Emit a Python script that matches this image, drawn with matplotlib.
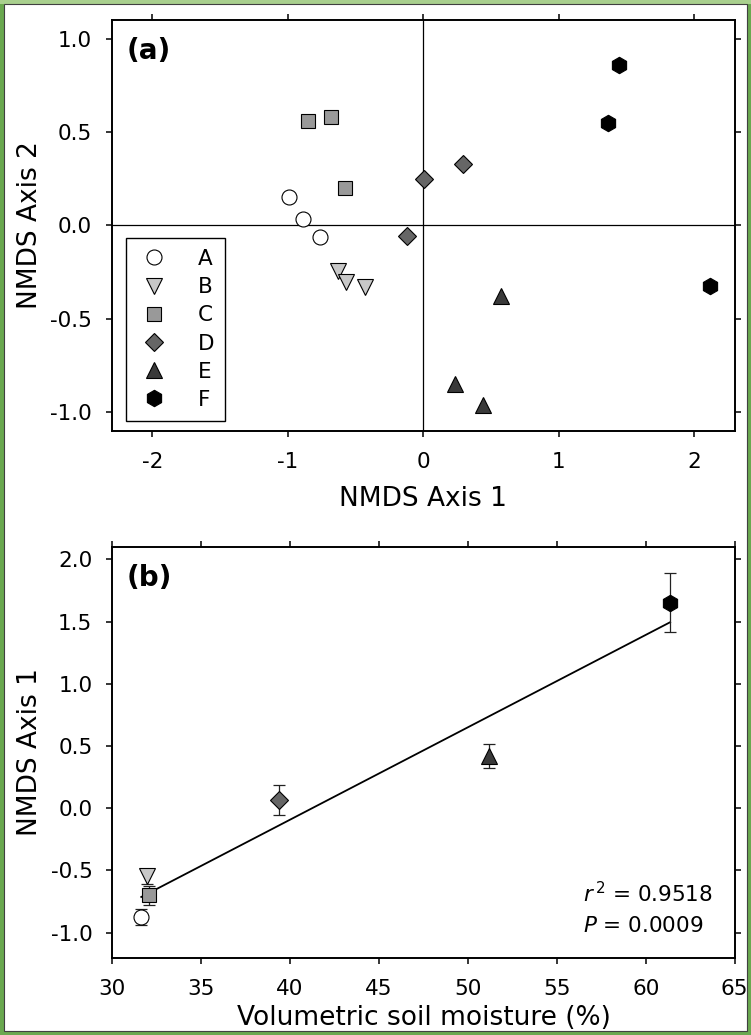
import numpy as np
import matplotlib
matplotlib.use('Agg')
import matplotlib.pyplot as plt
from matplotlib.patches import Rectangle
from matplotlib.ticker import MultipleLocator, FormatStrFormatter

groups = ['A', 'B', 'C', 'D', 'E', 'F']

# (a) NMDS scores, three plots per group
nmds1_A = [-0.99, -0.885, -0.76]
nmds2_A = [0.15, 0.035, -0.06]
nmds1_B = [-0.63, -0.57, -0.43]
nmds2_B = [-0.245, -0.305, -0.33]
nmds1_C = [-0.85, -0.68, -0.58]
nmds2_C = [0.56, 0.58, 0.20]
nmds1_D = [0.005, 0.29, -0.12]
nmds2_D = [0.25, 0.33, -0.055]
nmds1_E = [0.575, 0.235, 0.44]
nmds2_E = [-0.38, -0.85, -0.963]
nmds1_F = [1.445, 1.36, 2.115]
nmds2_F = [0.86, 0.55, -0.325]

# (b) group means of NMDS axis 1 vs soil moisture
moisture = [31.63, 31.97, 32.08, 39.39, 51.2, 61.37]
axis1_mean = [-0.874, -0.545, -0.70, 0.066, 0.42, 1.652]
axis1_err = [0.064, 0.06, 0.077, 0.12, 0.098, 0.237]
r2_text = '$r^{\\,2}$ = 0.9518'
p_text = '$P$ = 0.0009'

# marker, face colour, size (pt)
styles = {
    'A': ('o', 'white', 10.8),
    'B': ('v', '#c8c8c8', 11),
    'C': ('s', '#999999', 10),
    'D': ('D', '#666666', 8.7),
    'E': ('^', '#3a3a3a', 11),
    'F': ('h', 'black', 11.8),
}

plt.rcParams['font.family'] = 'DejaVu Sans'
plt.rcParams['mathtext.fontset'] = 'dejavusans'
plt.rcParams['axes.unicode_minus'] = False

fig = plt.figure(figsize=(7.51, 10.35), dpi=100)
ax_a = fig.add_axes([0.1486, 0.5836, 0.8301, 0.3971])
ax_b = fig.add_axes([0.1495, 0.0748, 0.8288, 0.3967])

def style_axes(ax):
    for sp in ax.spines.values():
        sp.set_linewidth(1.4)
    ax.tick_params(direction='out', length=4.3, width=1.1, top=True, right=True,
                   labelsize=15.5)
    ax.tick_params(axis='x', pad=11)
    ax.tick_params(axis='y', pad=10)
    ax.yaxis.set_major_formatter(FormatStrFormatter('%.1f'))

# ---- panel (a)
ax_a.axhline(0, color='black', lw=0.9, zorder=1)
ax_a.axvline(0, color='black', lw=0.9, zorder=1)
xs_a = [nmds1_A, nmds1_B, nmds1_C, nmds1_D, nmds1_E, nmds1_F]
ys_a = [nmds2_A, nmds2_B, nmds2_C, nmds2_D, nmds2_E, nmds2_F]
for g, x, y in zip(groups, xs_a, ys_a):
    m, fc, ms = styles[g]
    ax_a.plot(x, y, linestyle='none', marker=m, markerfacecolor=fc,
              markeredgecolor='black', markeredgewidth=0.8, markersize=ms,
              label=g, zorder=3)
ax_a.set_xlim(-2.3, 2.3)
ax_a.set_ylim(-1.1, 1.1)
ax_a.xaxis.set_major_locator(MultipleLocator(1))
ax_a.yaxis.set_major_locator(MultipleLocator(0.5))
style_axes(ax_a)
ax_a.set_xlabel('NMDS Axis 1', fontsize=19)
ax_a.set_ylabel('NMDS Axis 2', fontsize=19)
ax_a.xaxis.set_label_coords(0.5, -0.134)
ax_a.yaxis.set_label_coords(-0.110, 0.5)
ax_a.text(0.0247, 0.904, '(a)', transform=ax_a.transAxes, fontsize=20,
          fontweight='bold', va='baseline')
leg = ax_a.legend(loc='upper left', bbox_to_anchor=(0.023, 0.469),
                  borderaxespad=0, fancybox=False, edgecolor='black',
                  framealpha=1, fontsize=15.5, numpoints=1, handlelength=1.6,
                  handletextpad=1.24, labelspacing=0.38, borderpad=0.5)
leg.get_frame().set_linewidth(1.0)

# ---- panel (b)
slope, intercept = np.polyfit(moisture, axis1_mean, 1)
xfit = np.array([min(moisture), max(moisture)])
ax_b.plot(xfit, slope * xfit + intercept, color='black', lw=1.3, zorder=2)
for i, g in enumerate(groups):
    m, fc, ms = styles[g]
    ax_b.errorbar(moisture[i], axis1_mean[i], yerr=axis1_err[i], fmt='none',
                  ecolor='#222222', elinewidth=0.9, capsize=4.3,
                  capthick=0.9, zorder=3)
    ax_b.plot(moisture[i], axis1_mean[i], linestyle='none', marker=m,
              markerfacecolor=fc, markeredgecolor='black',
              markeredgewidth=0.8, markersize=ms, zorder=4)
ax_b.set_xlim(30, 65)
ax_b.set_ylim(-1.2, 2.1)
ax_b.xaxis.set_major_locator(MultipleLocator(5))
ax_b.yaxis.set_major_locator(MultipleLocator(0.5))
style_axes(ax_b)
ax_b.set_xlabel('Volumetric soil moisture (%)', fontsize=19)
ax_b.set_ylabel('NMDS Axis 1', fontsize=19)
ax_b.xaxis.set_label_coords(0.5, -0.1167)
ax_b.yaxis.set_label_coords(-0.111, 0.5)
ax_b.text(0.0236, 0.904, '(b)', transform=ax_b.transAxes, fontsize=20,
          fontweight='bold', va='baseline')
ax_b.text(56.47, -0.751, r2_text, fontsize=15.5, va='baseline')
ax_b.text(56.47, -0.992, p_text, fontsize=15.5, va='baseline')

# green picture frame
W, H = 751.0, 1035.0
fig.add_artist(Rectangle((0, 0), 1, 1, transform=fig.transFigure, fill=False,
                         edgecolor='#6aa84f', linewidth=5.8, zorder=10))
fig.add_artist(Rectangle((0, 1 - 4 / H), 1, 4 / H, transform=fig.transFigure,
                         facecolor='#a9d08e', edgecolor='none', zorder=11))
fig.add_artist(Rectangle((4 / W, 4 / H), 1 - 8 / W, 1 - 8 / H,
                         transform=fig.transFigure, fill=False,
                         edgecolor='#404040', linewidth=0.8, zorder=12))

fig.savefig('out.png', dpi=100)
